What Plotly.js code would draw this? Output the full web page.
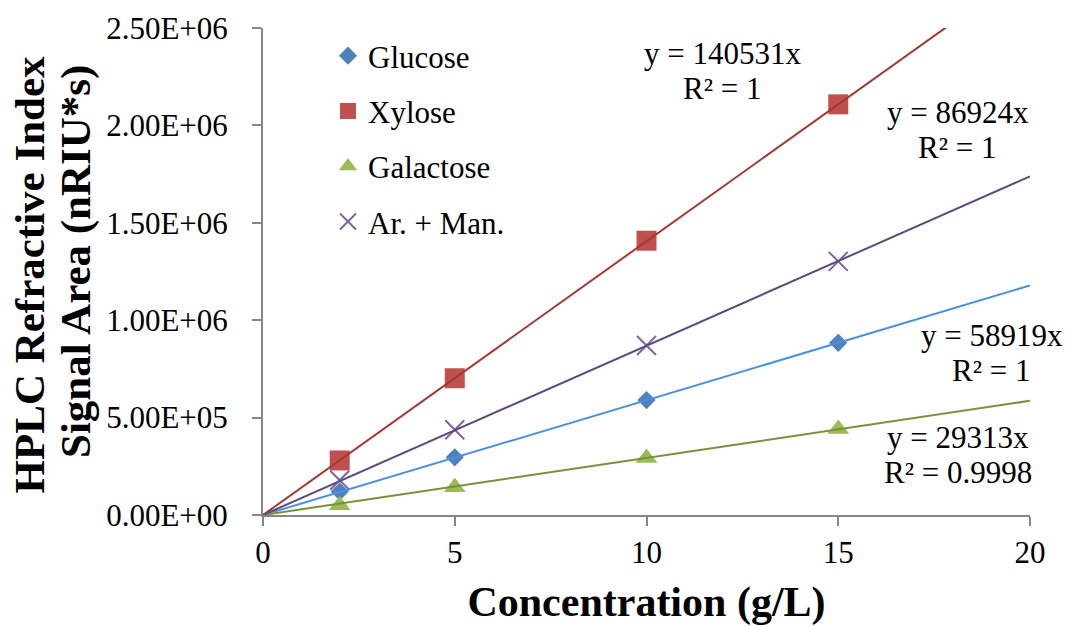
<!DOCTYPE html>
<html>
<head>
<meta charset="utf-8">
<script src="https://cdn.plot.ly/plotly-3.0.1.min.js"></script>
<style>html,body{margin:0;padding:0;background:#fff;}#chart{width:1071px;height:626px;}</style>
</head>
<body>
<div id="chart"></div>
<script>
// Concentrations (g/L)
const concentration = [2, 5, 10, 15];
// Signal areas (nRIU*s)
const glucose   = [120000, 296000, 590000, 884000];
const xylose    = [280000, 702000, 1408000, 2108000];
const galactose = [50000, 143000, 292000, 441000];
const arMan     = [178000, 438000, 870000, 1302000];
// Trendline slopes as printed in the chart (y = m x)
const slopeGlucose = 58919;
const slopeXylose = 140531;
const slopeGalactose = 29313;
const slopeArMan = 86924;
const trendX = [0, 20];
// Axis tick labels
const yTickVals = [0, 500000, 1000000, 1500000, 2000000, 2500000];
const yTickText = ["0.00E+00", "5.00E+05", "1.00E+06", "1.50E+06", "2.00E+06", "2.50E+06"];
const xTickVals = [0, 5, 10, 15, 20];
const xTickText = ["0", "5", "10", "15", "20"];

const serif = "Liberation Serif, Times New Roman, serif";

function trend(m) { return trendX.map(x => m * x); }

const traces = [
  {x: concentration, y: glucose, name: "Glucose", mode: "markers", type: "scatter", legendgroup: "g1",
   marker: {symbol: "diamond", size: 14, color: "#4F81BD", line: {width: 0}}},
  {x: concentration, y: xylose, name: "Xylose", mode: "markers", type: "scatter", legendgroup: "g2",
   marker: {symbol: "square", size: 20, color: "#C0504D", line: {width: 0}}},
  {x: concentration, y: galactose, name: "Galactose", mode: "markers", type: "scatter", legendgroup: "g3",
   marker: {symbol: "triangle-up", size: 19, color: "#9BBB59", line: {width: 0}}},
  {x: concentration, y: arMan, name: "Ar. + Man.", mode: "markers", type: "scatter", legendgroup: "g4",
   marker: {symbol: "x-thin-open", size: 19, color: "#8064A2", line: {width: 2, color: "#8064A2"}}},
  {x: trendX, y: trend(slopeGlucose), mode: "lines", showlegend: false, hoverinfo: "skip",
   line: {color: "#4A8FE0", width: 2}},
  {x: trendX, y: trend(slopeXylose), mode: "lines", showlegend: false, hoverinfo: "skip",
   line: {color: "#A33734", width: 2}},
  {x: trendX, y: trend(slopeGalactose), mode: "lines", showlegend: false, hoverinfo: "skip",
   line: {color: "#76933C", width: 2}},
  {x: trendX, y: trend(slopeArMan), mode: "lines", showlegend: false, hoverinfo: "skip",
   line: {color: "#604A7B", width: 2}}
];

function ann(text, x, y, size, bold, angle) {
  return {text: bold ? "<b>" + text + "</b>" : text, xref: "paper", yref: "paper", x: x, y: y,
    xanchor: "center", yanchor: "middle", showarrow: false, textangle: angle || 0,
    font: {family: serif, size: size, color: "#000"}};
}

const L = 263, R = 1030, T = 28, B = 515;
function px(x) { return (x - L) / (R - L); }
function py(y) { return (B - y) / (B - T); }

const annotations = [
  ann("y = 140531x", px(722), py(53), 31),
  ann("R² = 1", px(722), py(88), 31),
  ann("y = 86924x", px(958), py(113), 31),
  ann("R² = 1", px(957), py(147), 31),
  ann("y = 58919x", px(992), py(335), 31),
  ann("R² = 1", px(991), py(370), 31),
  ann("y = 29313x", px(958), py(438), 31),
  ann("R² = 0.9998", px(958), py(472), 31),
  ann("HPLC Refractive Index", px(29), py(274.5), 43, true, -90),
  ann("Signal Area (nRIU*s)", px(76), py(262), 43, true, -90)
];

const layout = {
  width: 1071, height: 626,
  margin: {l: L, r: 1071 - R, t: T, b: 626 - B, pad: 0},
  paper_bgcolor: "#fff", plot_bgcolor: "#fff",
  font: {family: serif, size: 31, color: "#000"},
  showlegend: true,
  legend: {x: px(328), y: py(29), xanchor: "left", yanchor: "top", bgcolor: "rgba(0,0,0,0)",
    font: {family: serif, size: 31, color: "#000"}, tracegroupgap: 12, itemwidth: 30},
  xaxis: {range: [0, 20], tickvals: xTickVals, ticktext: xTickText, ticks: "outside", ticklen: 9,
    tickwidth: 2, tickcolor: "#868686", showline: true, linecolor: "#868686", linewidth: 2,
    showgrid: false, zeroline: false, ticklabelstandoff: 0,
    tickfont: {family: serif, size: 31, color: "#000"},
    title: {text: "<b>Concentration (g/L)</b>", font: {family: serif, size: 42, color: "#000"}, standoff: 22}},
  yaxis: {range: [0, 2500000], tickvals: yTickVals, ticktext: yTickText, ticks: "outside", ticklen: 9,
    tickwidth: 2, tickcolor: "#868686", showline: true, linecolor: "#868686", linewidth: 2,
    showgrid: false, zeroline: false, ticklabelstandoff: 18,
    tickfont: {family: serif, size: 31, color: "#000"}},
  annotations: annotations
};

Plotly.newPlot("chart", traces, layout, {displayModeBar: false, staticPlot: true});
</script>
</body>
</html>
